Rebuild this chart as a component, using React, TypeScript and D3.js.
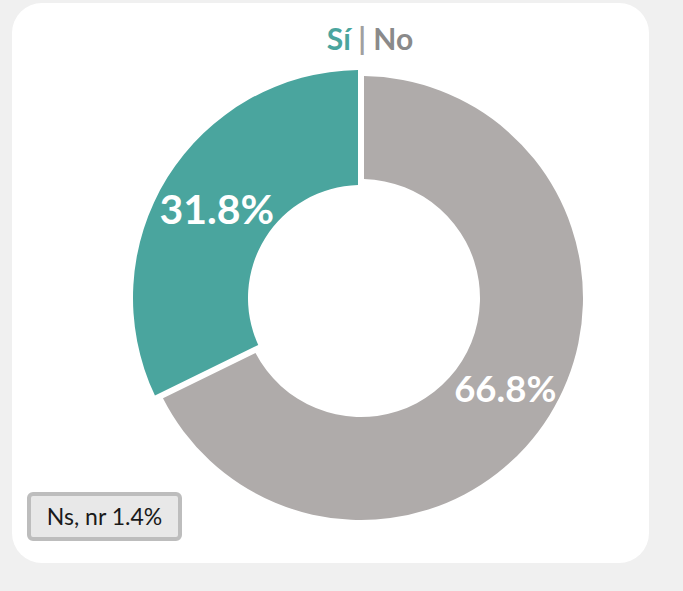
import React from "react";
import * as d3 from "d3";

const categories = ["No", "Sí"];
const values = [66.8, 31.8];
const labels = ["66.8%", "31.8%"];
const otherLabel = "Ns, nr";
const otherValue = 1.4;

const W = 683;
const H = 591;

export default function App() {
  const cx = 361;
  const cy = 298;
  const pie = d3
    .pie<number>()
    .sort(null)
    .value((d) => d);
  const arcs = pie(values);
  const colors = ["#afabaa", "#4aa59e"];
  const outer = [222, 228];
  const inner = [119, 113];
  const labelSize = [36.5, 41];
  const gap = 6;
  const padR = 200;

  return (
    <svg
      width={W}
      height={H}
      style={{ position: "absolute", left: 0, top: 0, fontFamily: "Lato, sans-serif" }}
    >
      <rect x={0} y={0} width={W} height={H} fill="#f0f0f0" />
      <rect x={12} y={3} width={637} height={560} rx={30} ry={30} fill="#ffffff" />
      <text x={370} y={50} textAnchor="middle" fontSize={30} fontWeight={700}>
        <tspan fill="#4aa59e">{categories[1]}</tspan>
        <tspan fill="#a0a0a0" fontWeight={700}> | </tspan>
        <tspan fill="#8a8a8a">{categories[0]}</tspan>
      </text>
      <g transform={`translate(${cx},${cy})`}>
        {arcs.map((a, i) => {
          const gen = d3
            .arc<d3.PieArcDatum<number>>()
            .innerRadius(inner[i])
            .outerRadius(outer[i])
            .padAngle(gap / padR)
            .padRadius(padR);
          const lab = d3
            .arc<d3.PieArcDatum<number>>()
            .innerRadius(170)
            .outerRadius(170);
          const [lx, ly] = lab.centroid(a);
          return (
            <g key={i}>
              <path d={gen(a) || ""} fill={colors[i]} />
              <text
                x={lx}
                y={ly}
                textAnchor="middle"
                dominantBaseline="central"
                fill="#ffffff"
                fontSize={labelSize[i]}
                fontWeight={700}
              >
                {labels[i]}
              </text>
            </g>
          );
        })}
      </g>
      <rect
        x={29}
        y={494}
        width={151}
        height={45}
        rx={4}
        ry={4}
        fill="#e8e8e8"
        stroke="#bdbdbd"
        strokeWidth={4}
      />
      <text x={104.5} y={525} textAnchor="middle" fontSize={23} fill="#1a1a1a">
        {`${otherLabel} ${otherValue}%`}
      </text>
    </svg>
  );
}
